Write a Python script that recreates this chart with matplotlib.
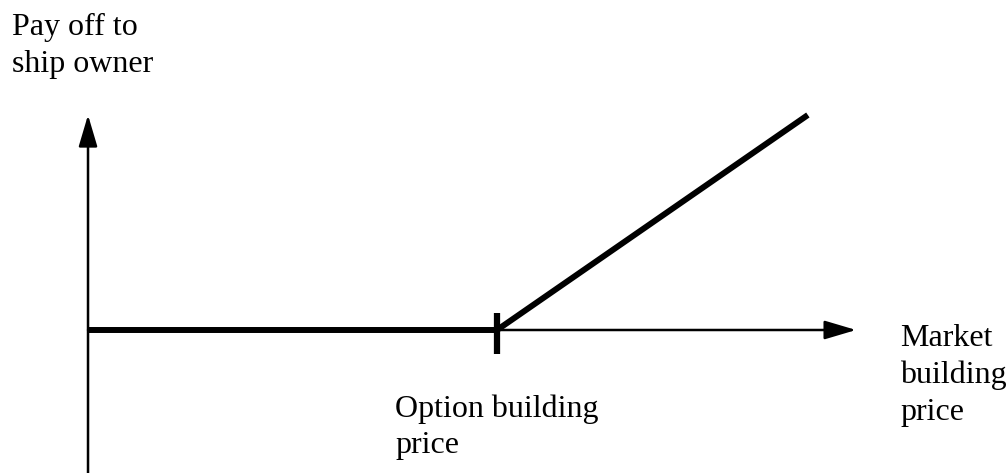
import matplotlib as mpl
from matplotlib import pyplot as plt
from matplotlib import transforms as mtransforms

mpl.rcParams['font.family'] = ['Liberation Serif', 'DejaVu Serif']

# payoff diagram data (market price vs payoff, strike at 10)
strike = 10.0
market_price = [0.0, 10.0, 17.6]
payoff = [0.0, 0.0, 7.6]
axis_x_end = 18.78
axis_y_end = 7.60

ylabel_lines = ['Pay off to', 'ship owner']
xlabel_lines = ['Market', 'building', 'price']
strike_lines = ['Option building', 'price']

W, H = 1007, 473
fig = plt.figure(figsize=(W / 100., H / 100.), dpi=100)
ax = fig.add_axes([0, 0, 1, 1])
ax.set_xlim(-2.152, 22.469)
ax.set_ylim(-5.055, 11.665)
ax.set_axis_off()

# pixel coords measured from the top-left corner
px = mtransforms.Affine2D().scale(1, -1).translate(0, H)

arrow = dict(arrowstyle='-|>,head_length=1.944,head_width=0.576', mutation_scale=10,
             lw=1.8, color='black', shrinkA=0, shrinkB=0)
ylo = ax.get_ylim()[0]
ax.annotate('', xy=(0, axis_y_end), xytext=(0, ylo), arrowprops=arrow)
ax.annotate('', xy=(axis_x_end, 0), xytext=(0, 0), arrowprops=arrow)

# payoff line
ax.plot(market_price, payoff, color='black', lw=4.3, solid_joinstyle='miter',
        solid_capstyle='butt', zorder=3)
# strike tick
ax.plot([strike, strike], [0.60, -0.85], color='black', lw=4.5, solid_capstyle='butt', zorder=3)

fs = 23
def put(lines, x, y0, dy=37):
    for i, s in enumerate(lines):
        ax.text(x, y0 + i * dy, s, transform=px, fontsize=fs, ha='left', va='baseline')

put(ylabel_lines, 12, 35)
put(strike_lines, 395, 417, dy=36)
put(xlabel_lines, 900, 346)

fig.savefig('out.png', dpi=100)
